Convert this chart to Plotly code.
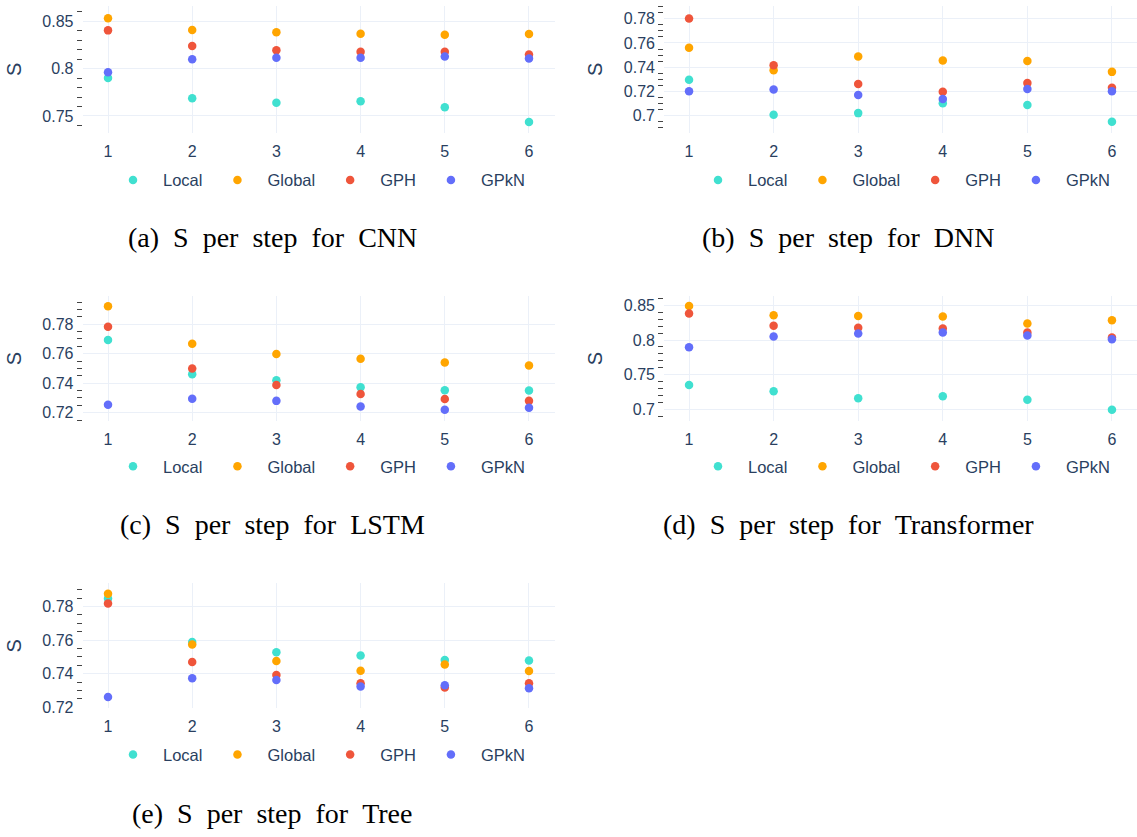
import plotly.graph_objects as go

W, H = 1137, 837

steps = [1, 2, 3, 4, 5, 6]
methods = ["Local", "Global", "GPH", "GPkN"]
colors = ["#40E0D0", "#FFA500", "#EF553B", "#636EFA"]

cnn_local = [0.790, 0.7686, 0.764, 0.7655, 0.7592, 0.7435]
cnn_global = [0.8533, 0.8408, 0.8383, 0.8369, 0.8359, 0.8366]
cnn_gph = [0.8404, 0.824, 0.8195, 0.8178, 0.8178, 0.815]
cnn_gpkn = [0.7961, 0.810, 0.8115, 0.8115, 0.8129, 0.8108]

dnn_local = [0.7295, 0.7006, 0.7020, 0.7102, 0.7088, 0.6949]
dnn_global = [0.756, 0.7374, 0.7489, 0.7456, 0.7451, 0.7361]
dnn_gph = [0.7803, 0.7415, 0.726, 0.7197, 0.7268, 0.723]
dnn_gpkn = [0.720, 0.7216, 0.717, 0.7137, 0.7219, 0.720]

lstm_local = [0.7693, 0.746, 0.7419, 0.7372, 0.7352, 0.735]
lstm_global = [0.7921, 0.7668, 0.7598, 0.7565, 0.754, 0.752]
lstm_gph = [0.7782, 0.750, 0.7388, 0.7327, 0.7292, 0.728]
lstm_gpkn = [0.7253, 0.7294, 0.728, 0.7242, 0.722, 0.7233]

transformer_local = [0.7352, 0.7262, 0.7162, 0.719, 0.7138, 0.6995]
transformer_global = [0.849, 0.8357, 0.8348, 0.8338, 0.8238, 0.8286]
transformer_gph = [0.8381, 0.8205, 0.8176, 0.8167, 0.811, 0.8038]
transformer_gpkn = [0.7895, 0.8052, 0.8095, 0.811, 0.8067, 0.801]

tree_local = [0.7847, 0.7588, 0.7527, 0.7508, 0.7482, 0.7478]
tree_global = [0.7876, 0.7573, 0.7475, 0.7418, 0.7455, 0.7416]
tree_gph = [0.7818, 0.747, 0.7392, 0.7343, 0.7318, 0.7343]
tree_gpkn = [0.7261, 0.7373, 0.7363, 0.7324, 0.7331, 0.7314]

captions = [
    "(a) S per step for CNN",
    "(b) S per step for DNN",
    "(c) S per step for LSTM",
    "(d) S per step for Transformer",
    "(e) S per step for Tree",
]

series = [
    [cnn_local, cnn_global, cnn_gph, cnn_gpkn],
    [dnn_local, dnn_global, dnn_gph, dnn_gpkn],
    [lstm_local, lstm_global, lstm_gph, lstm_gpkn],
    [transformer_local, transformer_global, transformer_gph, transformer_gpkn],
    [tree_local, tree_global, tree_gph, tree_gpkn],
]

# panel geometry in pixels: left, right, top, bottom
boxes = [
    (82.5, 554.5, 6, 134),
    (664, 1137, 6, 134),
    (82.5, 554.5, 299, 425),
    (664, 1137, 299, 425),
    (82.5, 554.5, 589, 715),
]
xranges = [[0.697, 6.303], [0.704, 6.296], [0.697, 6.303], [0.704, 6.296], [0.697, 6.303]]
yranges = [[0.7323, 0.8662], [0.6858, 0.7906], [0.7144, 0.7990], [0.6833, 0.8633], [0.7195, 0.7937]]
ydticks = [(0.05, 0.01), (0.02, 0.005), (0.02, 0.005), (0.05, 0.01), (0.02, 0.005)]
legend_first_marker = [133, 718, 133, 718, 133]
legend_y = [182, 182, 471, 471, 762]
caption_pos = [(272, 240), (848, 240), (272, 530), (848, 530), (272, 821)]

font_color = "#2a3f5f"
sans = "Liberation Sans, Arial, sans-serif"
fig = go.Figure()

for i, (vals, box) in enumerate(zip(series, boxes)):
    n = "" if i == 0 else str(i + 1)
    leg = "legend" + n
    for m, (name, c) in enumerate(zip(methods, colors)):
        fig.add_trace(go.Scatter(
            x=steps, y=vals[m], mode="markers", name=name,
            marker=dict(color=c, size=8.5),
            xaxis="x" + n, yaxis="y" + n, legend=leg,
        ))
    l, r, t, b = box
    fig.layout["xaxis" + n] = dict(
        domain=[l / W, r / W], anchor="y" + n, range=xranges[i],
        tickvals=steps, showgrid=True, gridcolor="#EBF0F8", zeroline=False,
        ticks="", ticklabelstandoff=7, tickfont=dict(size=16, color=font_color),
    )
    major, minor = ydticks[i]
    fig.layout["yaxis" + n] = dict(
        domain=[1 - b / H, 1 - t / H], anchor="x" + n, range=yranges[i],
        dtick=major, showgrid=True, gridcolor="#EBF0F8", zeroline=False,
        ticks="", ticklabelstandoff=8, tickfont=dict(size=16, color=font_color),
        minor=dict(dtick=minor, ticks="outside", ticklen=5, tickcolor="#444",
                   showgrid=False),
        title=dict(text="S", font=dict(size=20, color=font_color)),
    )
    fig.layout[leg] = dict(
        orientation="h", x=(legend_first_marker[i] - 30) / W, xanchor="left",
        y=1 - legend_y[i] / H, yanchor="middle",
        font=dict(size=16.5, color=font_color), itemwidth=50,
        bgcolor="rgba(0,0,0,0)",
    )
    cx, cy = caption_pos[i]
    fig.add_annotation(
        text=captions[i].replace(" ", " \u00a0"), x=cx / W, y=1 - cy / H,
        xref="paper", yref="paper", showarrow=False, xanchor="center", yanchor="middle",
        font=dict(family="Liberation Serif", size=28, color="black"),
    )

fig.update_layout(
    template="plotly_white", width=W, height=H,
    margin=dict(l=0, r=0, t=0, b=0),
    font=dict(family=sans),
    showlegend=True,
)

fig.write_html("out.html")
